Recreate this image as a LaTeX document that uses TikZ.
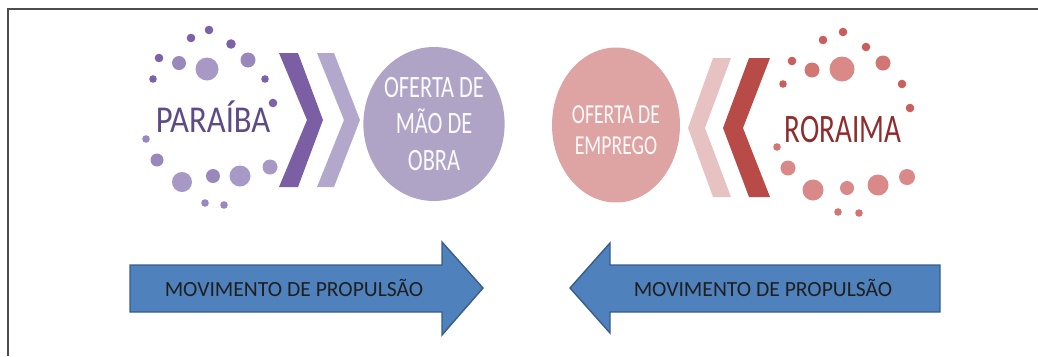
\documentclass[tikz,border=0pt]{standalone}
\usepackage{fontspec}
\setmainfont{Carlito}
\newfontfamily\narrowfont[FakeStretch=0.72]{Carlito}
\newfontfamily\namefont[FakeStretch=0.86]{Carlito}
\usepackage{tikz}
\usetikzlibrary{shapes.geometric,positioning}
\definecolor{frameG}{HTML}{4D4D4D}
\definecolor{dotPa}{HTML}{7D63A6}
\definecolor{dotPb}{HTML}{9A87BC}
\definecolor{dotPc}{HTML}{A898C6}
\definecolor{chevPa}{HTML}{7B5EA3}
\definecolor{chevPb}{HTML}{B3A8CC}
\definecolor{circP}{HTML}{AFA4C6}
\definecolor{textP}{HTML}{5E4A86}
\definecolor{dotRa}{HTML}{C85F5C}
\definecolor{dotRb}{HTML}{D27673}
\definecolor{dotRc}{HTML}{D98987}
\definecolor{chevRa}{HTML}{B84A47}
\definecolor{chevRb}{HTML}{E6C3C2}
\definecolor{circR}{HTML}{DDA4A3}
\definecolor{textR}{HTML}{8E2D2D}
\definecolor{arrowB}{HTML}{4F81BD}
\definecolor{arrowD}{HTML}{385D8A}

\begin{document}
\begin{tikzpicture}[x=0.02cm, y=-0.02cm]
   \useasboundingbox (0,0) rectangle (1038,356);
   \draw[frameG, line width=0.04cm] (8,356) -- (8,9) -- (1038,9);

   % Paraiba
   \begin{scope}
    \fill[dotPa] (209,30) circle (4.3);
    \fill[dotPa] (191,38) circle (4.3);
    \fill[dotPa] (231,44) circle (4.8);
    \fill[dotPa] (159,58) circle (4.3);
    \fill[dotPb] (179,63) circle (7);
    \fill[dotPc] (207,69) circle (11.5);
    \fill[dotPb] (248,60) circle (7.5);
    \fill[dotPa] (153,79) circle (3.8);
    \fill[dotPa] (265,79) circle (3.8);
    \fill[dotPa] (273,103) circle (4.3);
    \fill[dotPb] (146,139) circle (3.8);
    \fill[dotPb] (157,160) circle (6.5);
    \fill[dotPc] (182,182) circle (10);
    \fill[dotPb] (213,176) circle (7);
    \fill[dotPc] (240,176) circle (10.5);
    \fill[dotPc] (270,167) circle (7.5);
    \fill[dotPb] (205,203) circle (3.8);
    \fill[dotPb] (224,205) circle (3.8);
    \node (pb) [textP, anchor=base, font=\namefont\fontsize{21.6}{24}\selectfont] at (213,132) {PARAÍBA};
    \fill[chevPa] (279,53) -- (298,53) -- (323,120) -- (298,187) -- (279,187) -- (307,120) -- cycle;
    \fill[chevPb] (317,53) -- (334,53) -- (360,120) -- (334,187) -- (317,187) -- (344,120) -- cycle;
    \node (o1) [ellipse, fill=circP, minimum width=2.8cm, minimum height=3.08cm, inner sep=0pt,
      text=white!94!circP, align=center, font=\narrowfont\fontsize{17.7}{21}\selectfont] at (434,124)
      {OFERTA DE\\MÃO DE\\OBRA};
   \end{scope}

   % Roraima
   \begin{scope}
    \fill[dotRa] (843,32) circle (4.3);
    \fill[dotRa] (823,40) circle (4.3);
    \fill[dotRa] (866,47) circle (4.3);
    \fill[dotRa] (792,61) circle (4.3);
    \fill[dotRb] (812,70) circle (7.5);
    \fill[dotRc] (842,69) circle (12.5);
    \fill[dotRb] (883,63) circle (7.5);
    \fill[dotRa] (783,84) circle (3.8);
    \fill[dotRa] (902,84) circle (4.3);
    \fill[dotRa] (910,108) circle (4.3);
    \fill[dotRb] (777,147) circle (3.8);
    \fill[dotRc] (788,168) circle (7.5);
    \fill[dotRc] (813,190) circle (10.5);
    \fill[dotRc] (847,188) circle (7);
    \fill[dotRc] (878,185) circle (10.5);
    \fill[dotRc] (907,177) circle (8);
    \fill[dotRb] (838,212) circle (3.8);
    \fill[dotRb] (859,213) circle (3.8);
    \node (rr) [textR, anchor=base, font=\narrowfont\fontsize{23}{26}\selectfont] at (843,142) {RORAIMA};
    \fill[chevRb] (731,58) -- (713,58) -- (688,128) -- (713,197) -- (731,197) -- (705,128) -- cycle;
    \fill[chevRa] (770,58) -- (749,58) -- (723,128) -- (749,197) -- (770,197) -- (743,128) -- cycle;
    \node (o2) [ellipse, fill=circR, minimum width=2.56cm, minimum height=3.1cm, inner sep=0pt] at (616,125) {};
    \node (e2) [text=white!94!circR, align=center, font=\narrowfont\fontsize{15.6}{17.5}\selectfont]
      at ([yshift=-0.11cm]o2.center) {OFERTA DE\\EMPREGO};
   \end{scope}

   % propulsion arrows
   \begin{scope}[every node/.style={text=black!88, font=\fontsize{12.3}{14}\selectfont}]
    \filldraw[fill=arrowB, draw=arrowD, line width=0.8pt] (130,265) -- (442,265) -- (442,242) -- (483,288)
      -- (442,335) -- (442,312) -- (130,312) -- cycle;
    \node (m1) at (294,288) {MOVIMENTO DE PROPULSÃO};
    \filldraw[fill=arrowB, draw=arrowD, line width=0.8pt] (940,265) -- (610,265) -- (610,243) -- (570,288)
      -- (610,333) -- (610,312) -- (940,312) -- cycle;
    \node (m2) at (763,288) {MOVIMENTO DE PROPULSÃO};
   \end{scope}
\end{tikzpicture}
\end{document}
